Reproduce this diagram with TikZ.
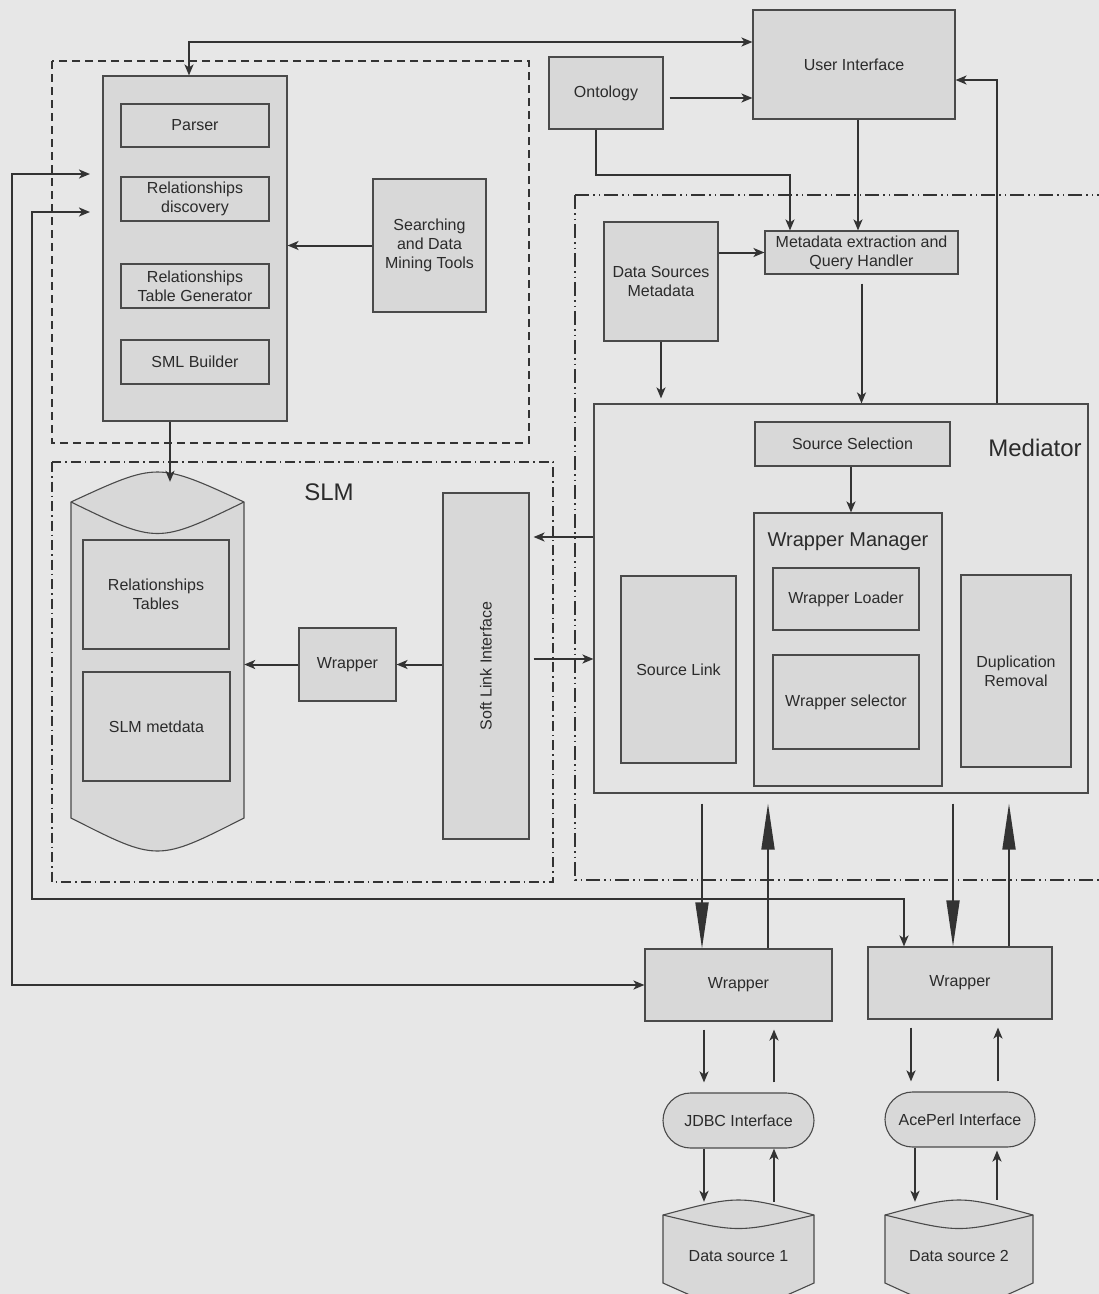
\documentclass[tikz,border=0pt]{standalone}
\usepackage{fontspec}
\setmainfont{Liberation Sans}
\usetikzlibrary{arrows.meta}
\definecolor{pagebg}{HTML}{E7E7E7}
\definecolor{boxfill}{HTML}{D8D8D8}
\definecolor{medfill}{HTML}{E4E4E4}
\definecolor{wmfill}{HTML}{DCDCDC}
\definecolor{edge}{HTML}{4A4A4A}
\definecolor{wire}{HTML}{333333}
\definecolor{ink}{HTML}{2B2B2B}
\newcommand{\boxfont}{\fontsize{16}{19}\selectfont}
\newcommand{\bigfont}{\fontsize{24}{28}\selectfont}
\newcommand{\midfont}{\fontsize{20}{24}\selectfont}

\begin{document}
\begin{tikzpicture}[x=1pt,y=-1pt,
  box/.style={draw=edge, line width=1.1pt, fill=boxfill, inner sep=0pt, align=center, font=\boxfont, text=ink},
  plain/.style={inner sep=0pt, align=center, font=\boxfont, text=ink},
  wireline/.style={draw=wire, line width=2pt},
  arr/.style={wireline, -{Stealth[length=11pt,width=9pt,inset=3pt]}},
  dblarr/.style={wireline, {Stealth[length=11pt,width=9pt,inset=3pt]}-{Stealth[length=11pt,width=9pt,inset=3pt]}},
  bigarr/.style={wireline, line width=1.8pt, -{Triangle[length=46pt,width=13pt]}},
  toolgroup/.style={draw=wire, line width=1.4pt, dash pattern=on 8pt off 5pt},
  slmgroup/.style={draw=wire, line width=1.2pt, dash pattern=on 10pt off 4pt on 1.5pt off 4pt},
  medgroup/.style={draw=wire, line width=1.4pt, dash pattern=on 14pt off 4pt on 1.5pt off 4pt on 1.5pt off 4pt},
  drum/.style={draw=edge, line width=1.1pt, fill=boxfill},
]
\useasboundingbox[fill=pagebg] (0,0) rectangle (1099,1294);

% ---------- grouping frames ----------
\draw[toolgroup] (52,61) rectangle (529,443);
\draw[slmgroup] (52,462) rectangle (553,882);
\draw[medgroup] (575,195) rectangle (1115,880);

% ---------- parsing / tools column ----------
\node[box, minimum width=184pt, minimum height=345pt] (col) at (195,248.5) {};
\node[box, minimum width=148pt, minimum height=43pt] (parser) at (195,125.5) {Parser};
\node[box, minimum width=148pt, minimum height=44pt] (reldisc) at (195,199) {Relationships\\discovery};
\node[box, minimum width=148pt, minimum height=44pt] (rtg) at (195,286) {Relationships\\Table Generator};
\node[box, minimum width=148pt, minimum height=44pt] (smlb) at (195,362) {SML Builder};
\node[box, minimum width=113pt, minimum height=133pt] (search) at (429.5,245.5) {Searching\\and Data\\Mining Tools};

% ---------- top row ----------
\node[box, minimum width=202pt, minimum height=109pt] (ui) at (854,64.5) {User Interface};
\node[box, minimum width=114pt, minimum height=72pt] (onto) at (606,93) {Ontology};
\node[box, minimum width=193pt, minimum height=43pt] (meq) at (861.5,252.5) {Metadata extraction and\\Query Handler};
\node[box, minimum width=114pt, minimum height=119pt] (dsm) at (661,281.5) {Data Sources\\Metadata};

% ---------- mediator ----------
\node[box, fill=medfill, minimum width=494pt, minimum height=389pt] (med) at (841,598.5) {};
\node[plain, font=\bigfont] (medlbl) at (1035,448) {Mediator};
\node[box, minimum width=195pt, minimum height=44pt] (ss) at (852.5,444) {Source Selection};
\node[box, fill=wmfill, minimum width=188pt, minimum height=273pt] (wm) at (848,649.5) {};
\node[plain, font=\midfont] (wmlbl) at (848,542) {Wrapper Manager};
\node[box, minimum width=146pt, minimum height=62pt] (wl) at (846,599) {Wrapper Loader};
\node[box, minimum width=146pt, minimum height=94pt] (wsel) at (846,702) {Wrapper selector};
\node[box, minimum width=115pt, minimum height=187pt] (sl) at (678.5,669.5) {Source Link};
\node[box, minimum width=110pt, minimum height=192pt] (dr) at (1016,671) {Duplication\\Removal};

% ---------- SLM ----------
\node[plain, font=\bigfont] (slmlbl) at (329,492) {SLM};
\path[drum] (71,502) .. controls (157.5,462) .. (244,502) -- (244,818)
  .. controls (157.5,862) .. (71,818) -- cycle;
\draw[drum, fill=none] (71,502) .. controls (157.5,544) .. (244,502);
\node[minimum width=173pt, minimum height=358pt, inner sep=0pt] (cyl) at (157.5,661) {};
\node[box, minimum width=146pt, minimum height=109pt] (rt) at (156,594.5) {Relationships\\Tables};
\node[box, minimum width=147pt, minimum height=109pt] (slmmd) at (156.5,726.5) {SLM metdata};
\node[box, minimum width=97pt, minimum height=73pt] (wslm) at (347.5,664.5) {Wrapper};
\node[box, minimum width=86pt, minimum height=346pt] (sli) at (486,666) {};
\node[plain, rotate=90] (slitext) at (sli.center) {Soft Link Interface};

% ---------- wrappers, interfaces, sources ----------
\node[box, minimum width=187pt, minimum height=72pt] (w1) at (738.5,985) {Wrapper};
\node[box, minimum width=184pt, minimum height=72pt] (w2) at (960,983) {Wrapper};
\node[box, rounded corners=27.5pt, minimum width=151pt, minimum height=55pt] (jdbc) at (738.5,1120.5) {JDBC Interface};
\node[box, rounded corners=27.5pt, minimum width=150pt, minimum height=55pt] (ace) at (960,1119.5) {AcePerl Interface};

\path[drum] (663,1215) .. controls (738.5,1195) .. (814,1215) -- (814,1283)
  .. controls (738.5,1317) .. (663,1283) -- cycle;
\draw[drum, fill=none] (663,1215) .. controls (738.5,1233) .. (814,1215);
\node[plain, minimum width=151pt, minimum height=102pt] (ds1) at (738.5,1256) {Data source 1};
\path[drum] (885,1215) .. controls (959,1195) .. (1033,1215) -- (1033,1283)
  .. controls (959,1317) .. (885,1283) -- cycle;
\draw[drum, fill=none] (885,1215) .. controls (959,1233) .. (1033,1215);
\node[plain, minimum width=148pt, minimum height=102pt] (ds2) at (959,1256) {Data source 2};

% ---------- connectors ----------
\coordinate (uiBend) at (189,42);
\draw[dblarr] (col.north -| uiBend) -- (uiBend) -- (uiBend -| ui.west);

\coordinate (ontoY) at (0,98);
\draw[arr, shorten <=6pt] (onto.east |- ontoY) -- (ui.west |- ontoY);

\coordinate (ob1) at (596,175);
\coordinate (ob2) at (790,175);
\draw[arr] (onto.south -| ob1) -- (ob1) -- (ob2) -- (meq.north -| ob2);

\coordinate (uix) at (858,0);
\draw[arr] (ui.south -| uix) -- (meq.north -| uix);

\draw[arr] (dsm.east |- meq.west) -- (meq.west);
\draw[arr, shorten >=5pt] (dsm.south) -- (dsm.south |- med.north);
\draw[arr, shorten <=9pt] (meq.south) -- (meq.south |- med.north);

\coordinate (mu) at (997,80);
\draw[arr] (med.north -| mu) -- (mu) -- (mu -| ui.east);

\draw[arr] (search.west) -- (search.west -| col.east);

\coordinate (cx) at (170,0);
\draw[arr] (col.south -| cx) -- (cyl.north -| cx);

\coordinate (la) at (90,174);
\coordinate (lb) at (12,174);
\coordinate (lc) at (12,985);
\draw[dblarr] (la) -- (lb) -- (lc) -- (lc -| w1.west);

\coordinate (ma) at (90,212);
\coordinate (mb) at (32,212);
\coordinate (mc) at (32,899);
\coordinate (md) at (904,899);
\draw[dblarr] (ma) -- (mb) -- (mc) -- (md) -- (md |- w2.north);

\draw[arr] (sli.west |- wslm.east) -- (wslm.east);
\draw[arr] (wslm.west) -- (wslm.west -| cyl.east);

\coordinate (sy1) at (0,537);
\coordinate (sy2) at (0,659);
\draw[arr, shorten >=4pt] (med.west |- sy1) -- (sli.east |- sy1);
\draw[arr, shorten <=4pt] (sli.east |- sy2) -- (med.west |- sy2);

\coordinate (sx) at (851,0);
\draw[arr] (ss.south -| sx) -- (wm.north -| sx);

\coordinate (d1) at (702,0);
\coordinate (u1) at (768,0);
\coordinate (d2) at (953,0);
\coordinate (u2) at (1009,0);
\draw[bigarr, shorten <=10pt] (med.south -| d1) -- (w1.north -| d1);
\draw[bigarr, shorten >=10pt] (w1.north -| u1) -- (med.south -| u1);
\draw[bigarr, shorten <=10pt] (med.south -| d2) -- (w2.north -| d2);
\draw[bigarr, shorten >=10pt] (w2.north -| u2) -- (med.south -| u2);

\coordinate (p1) at (704,0);
\coordinate (q1) at (774,0);
\coordinate (p2) at (911,0);
\coordinate (q2) at (998,0);
\coordinate (r2) at (915,0);
\coordinate (s2) at (997,0);
\draw[arr, shorten <=8pt, shorten >=10pt] (w1.south -| p1) -- (jdbc.north -| p1);
\draw[arr, shorten <=10pt, shorten >=8pt] (jdbc.north -| q1) -- (w1.south -| q1);
\draw[arr, shorten <=8pt, shorten >=10pt] (w2.south -| p2) -- (ace.north -| p2);
\draw[arr, shorten <=10pt, shorten >=8pt] (ace.north -| q2) -- (w2.south -| q2);

\draw[arr, shorten >=3pt] (jdbc.south -| p1) -- (ds1.north -| p1);
\draw[arr, shorten <=3pt] (ds1.north -| q1) -- (jdbc.south -| q1);
\draw[arr, shorten >=3pt] (ace.south -| r2) -- (ds2.north -| r2);
\draw[arr, shorten <=5pt, shorten >=3pt] (ds2.north -| s2) -- (ace.south -| s2);
\end{tikzpicture}
\end{document}
